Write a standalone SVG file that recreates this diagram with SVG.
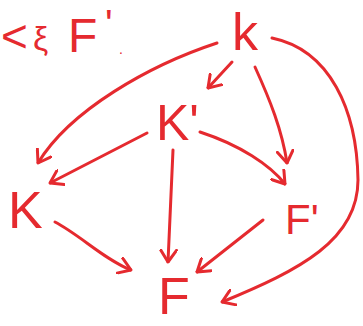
<svg xmlns="http://www.w3.org/2000/svg" width="363" height="326" viewBox="0 0 363 326">
<style>
.t{fill:#e52a2f;font-family:"Liberation Sans",Arial,sans-serif;}
.c path{fill:none;stroke:#e52a2f;stroke-width:3;stroke-linecap:round;marker-end:url(#h);}
</style>
<defs>
<marker id="h" markerUnits="userSpaceOnUse" viewBox="0 0 14 18" refX="13" refY="9" markerWidth="14" markerHeight="18" orient="auto">
<path d="M1,1 L13,9 L1,17" fill="none" stroke="#e52a2f" stroke-width="3" stroke-linecap="round" stroke-linejoin="round"/>
</marker>
</defs>
<rect width="363" height="326" fill="#fff"/>
<g id="caption"><text class="t" x="1" y="52" font-size="46">&lt;</text><text class="t" x="33" y="50" font-size="34">ξ</text><text class="t" x="68" y="52" font-size="48">F</text><text class="t" x="105" y="38" font-size="40">'</text><text class="t" x="119" y="54" font-size="14">.</text></g>
<g class="c" id="connectors">
<path d="M217,43 C150,65 70,110 38,163"/>
<path d="M232,62 L208,88"/>
<path d="M255,67 C270,100 282,130 287,163"/>
<path d="M272,38 C330,50 357,110 358,180 C358,240 300,270 222,302"/>
<path d="M147,133 L50,183"/>
<path d="M200,132 C240,145 270,165 285,184"/>
<path d="M173,150 L168,262"/>
<path d="M55,222 C80,235 105,260 131,270"/>
<path d="M263,220 L197,272"/>
</g>
<g id="node-k"><text class="t" x="232" y="50" font-size="52">k</text></g>
<g id="node-Kp"><text class="t" x="156" y="140" font-size="50">K'</text></g>
<g id="node-K"><text class="t" x="8" y="228" font-size="52">K</text></g>
<g id="node-Fp"><text class="t" x="285" y="234" font-size="42">F'</text></g>
<g id="node-F"><text class="t" x="158" y="314" font-size="52">F</text></g>
</svg>
